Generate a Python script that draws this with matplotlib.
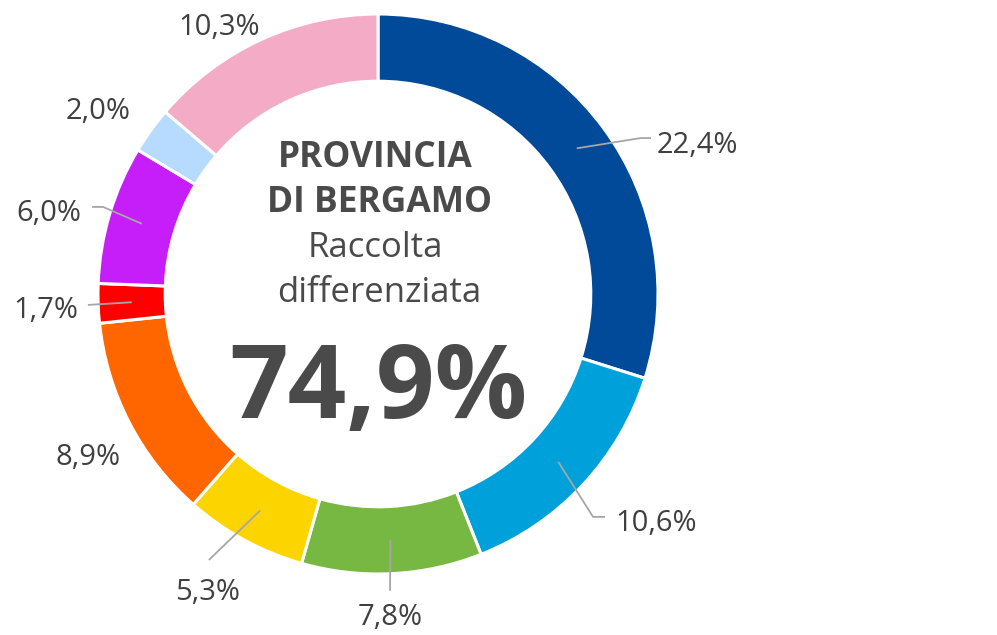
import numpy as np
import matplotlib
matplotlib.use('Agg')
import matplotlib.pyplot as plt

plt.rcParams['font.family'] = ['Open Sans', 'DejaVu Sans']

# ---- Data (share of total, %) ----
values = [22.4, 10.6, 7.8, 5.3, 8.9, 1.7, 6.0, 2.0, 10.3]
labels = ['22,4%', '10,6%', '7,8%', '5,3%', '8,9%', '1,7%', '6,0%', '2,0%', '10,3%']
colors = ['#004A99', '#00A1DA', '#77B843', '#FCD500', '#FF6600',
          '#FF0000', '#C51EF8', '#B7DAFF', '#F4ACC6']
total_label = '74,9%'

# ---- Label layout (data units, R = 1) ----
# text x, text baseline y, horizontal alignment, leader path (or None)
label_pos = [
    (0.996, 0.504, 'left', [(0.939, 0.557), (0.975, 0.557)]),
    (0.846, -0.846, 'left', [(0.768, -0.796), (0.811, -0.796)]),
    (0.043, -1.182, 'center', [(0.043, -1.060)]),
    (-0.607, -1.093, 'center', [(-0.604, -0.950)]),
    (-1.036, -0.611, 'center', None),
    (-1.071, -0.086, 'right', [(-1.036, -0.039)]),
    (-1.061, 0.261, 'right', [(-0.982, 0.311), (-1.021, 0.311)]),
    (-1.000, 0.625, 'center', None),
    (-0.568, 0.925, 'center', None),
]

TXT = '#404040'
LEAD = '#A6A6A6'
W, H = 997, 635
CX, CY, R = 378, 294, 280

fig = plt.figure(figsize=(W / 100, H / 100), dpi=100)
ax = fig.add_axes([0, 0, 1, 1])
ax.pie(values, colors=colors, startangle=90, counterclock=False, radius=1.0,
       wedgeprops=dict(width=0.24, edgecolor='white', linewidth=2.2))
ax.set_xlim(-CX / R, (W - CX) / R)
ax.set_ylim(-(H - CY) / R, CY / R)
ax.set_aspect('equal')
ax.axis('off')

# leader lines + labels
cum = np.cumsum([0] + values)
tot = cum[-1]
for i, (lab, (tx, ty, ha, path)) in enumerate(zip(labels, label_pos)):
    mid = np.deg2rad(90 - (cum[i] + values[i] / 2) / tot * 360)
    if path:
        xs = [0.88 * np.cos(mid)] + [p[0] for p in path]
        ys = [0.88 * np.sin(mid)] + [p[1] for p in path]
        ax.plot(xs, ys, color=LEAD, lw=1.3, solid_capstyle='butt', zorder=5)
    ax.text(tx, ty, lab, ha=ha, va='baseline', fontsize=21, color=TXT)

# centre text
ax.text(-0.01, 0.454, 'PROVINCIA', ha='center', va='baseline',
        fontsize=25.5, fontweight='bold', color='#4A4A4A')
ax.text(0.005, 0.293, 'DI BERGAMO', ha='center', va='baseline',
        fontsize=25.5, fontweight='bold', color='#4A4A4A')
ax.text(-0.01, 0.132, 'Raccolta', ha='center', va='baseline',
        fontsize=25, color='#4A4A4A')
ax.text(0.005, -0.029, 'differenziata', ha='center', va='baseline',
        fontsize=25, color='#4A4A4A')
ax.text(0.0, -0.443, total_label, ha='center', va='baseline',
        fontsize=74, fontweight='bold', color='#4A4A4A')

fig.savefig('out.png', dpi=100, facecolor='white')
